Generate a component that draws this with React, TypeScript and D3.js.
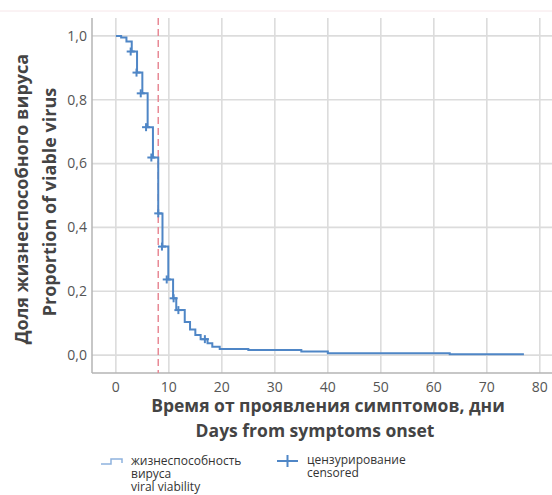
import React from 'react'
import * as d3 from 'd3'

// Kaplan-Meier step values
const stepDays = [0, 1, 2, 3, 4, 5, 6, 7, 8, 8.8, 9.9, 10.8, 11.4, 13, 14, 15, 16, 17.3, 18.2, 19.6, 25, 35, 40, 63]
const stepSurvival = [1.0, 0.995, 0.982, 0.951, 0.885, 0.82, 0.714, 0.619, 0.444, 0.34, 0.237, 0.178, 0.141, 0.104, 0.08, 0.063, 0.05, 0.037, 0.026, 0.019, 0.016, 0.011, 0.006, 0.003]
const lastDay = 77

const censorDays = [2.8, 3.9, 4.7, 5.7, 6.7, 8, 8.7, 9.6, 10.9, 11.8, 16.8]
const censorSurvival = [0.951, 0.885, 0.82, 0.714, 0.619, 0.444, 0.34, 0.237, 0.178, 0.141, 0.05]

const xTicks = [0, 10, 20, 30, 40, 50, 60, 70, 80]
const yTicks = [0, 0.2, 0.4, 0.6, 0.8, 1.0]
const medianDay = 8

const W = 552
const H = 495
const blue = '#4f86c6'
const font = '"Open Sans", "Noto Sans", sans-serif'

const App = () => {
  const plot = { left: 92, right: 552, top: 18, bottom: 373 }

  const x = d3.scaleLinear().domain([-4.5, 82.3]).range([plot.left, plot.right])
  const y = d3.scaleLinear().domain([-0.056, 1.056]).range([plot.bottom, plot.top])

  const pts: [number, number][] = stepDays.map((d, i) => [d, stepSurvival[i]])
  pts.push([lastDay, stepSurvival[stepSurvival.length - 1]])

  const line = d3.line<[number, number]>()
    .x(d => x(d[0]))
    .y(d => y(d[1]))
    .curve(d3.curveStepAfter)

  const fmt = (v: number) => d3.format('.1f')(v).replace('.', ',')

  return (
    <svg width={W} height={H} style={{ position: 'absolute', left: 0, top: 0, background: '#fff' }}>
      <line x1={0} x2={W} y1={11} y2={11} stroke="#f6e6e9" strokeWidth={1} />

      {/* grid */}
      {xTicks.map(t => (
        <line key={'gx' + t} x1={x(t)} x2={x(t)} y1={plot.top} y2={plot.bottom} stroke="#dcdcdc" strokeWidth={1.6} />
      ))}
      {yTicks.map(t => (
        <line key={'gy' + t} x1={plot.left} x2={plot.right} y1={y(t)} y2={y(t)} stroke="#dcdcdc" strokeWidth={1.6} />
      ))}

      {/* axes */}
      <line x1={plot.left} x2={plot.left} y1={plot.top} y2={plot.bottom} stroke="#b5b5b5" strokeWidth={1.5} />
      <line x1={plot.left} x2={plot.right} y1={plot.bottom} y2={plot.bottom} stroke="#b5b5b5" strokeWidth={1.5} />

      {/* median line */}
      <line x1={x(medianDay)} x2={x(medianDay)} y1={plot.top} y2={plot.bottom} stroke="#e88a96" strokeWidth={1.5} strokeDasharray="7,4" />

      {/* KM curve */}
      <path d={line(pts) || ''} fill="none" stroke={blue} strokeWidth={2} />
      {censorDays.map((d, i) => (
        <g key={'c' + i} stroke={blue} strokeWidth={2}>
          <line x1={x(d) - 4} x2={x(d) + 4} y1={y(censorSurvival[i])} y2={y(censorSurvival[i])} />
          <line x1={x(d)} x2={x(d)} y1={y(censorSurvival[i]) - 4} y2={y(censorSurvival[i]) + 4} />
        </g>
      ))}

      {/* tick labels */}
      {yTicks.map(t => (
        <text key={'ty' + t} x={87} y={y(t)} dy="0.35em" textAnchor="end" fontFamily={font} fontSize={14} fill="#555">{fmt(t)}</text>
      ))}
      {xTicks.map(t => (
        <text key={'tx' + t} x={x(t)} y={387} dy="0.35em" textAnchor="middle" fontFamily={font} fontSize={14} fill="#555">{t}</text>
      ))}

      {/* axis titles */}
      <text x={328} y={406} dy="0.35em" textAnchor="middle" fontFamily={font} fontSize={17.5} fontWeight="bold" fill="#444">Время от проявления симптомов, дни</text>
      <text x={315} y={431} dy="0.35em" textAnchor="middle" fontFamily={font} fontSize={17.5} fontWeight="bold" fill="#444">Days from symptoms onset</text>
      <text transform="translate(22,199) rotate(-90)" dy="0.35em" textAnchor="middle" fontFamily={font} fontSize={18} fontWeight="bold" fill="#444">Доля жизнеспособного вируса</text>
      <text transform="translate(50,202) rotate(-90)" dy="0.35em" textAnchor="middle" fontFamily={font} fontSize={18} fontWeight="bold" fill="#444">Proportion of viable virus</text>

      {/* legend */}
      <path d="M101,464 H111 V459 H122 V463" fill="none" stroke="#8fb2de" strokeWidth={1.5} />
      <text x={131} y={461} dy="0.35em" fontFamily={font} fontSize={12} fill="#333">жизнеспособность</text>
      <text x={131} y={474} dy="0.35em" fontFamily={font} fontSize={12} fill="#333">вируса</text>
      <text x={131} y={487} dy="0.35em" fontFamily={font} fontSize={12} fill="#333">viral viability</text>
      <line x1={277} x2={298} y1={461} y2={461} stroke={blue} strokeWidth={2} />
      <line x1={287.5} x2={287.5} y1={455} y2={467} stroke={blue} strokeWidth={2} />
      <text x={307} y={460} dy="0.35em" fontFamily={font} fontSize={12} fill="#333">цензурирование</text>
      <text x={307} y={473} dy="0.35em" fontFamily={font} fontSize={12} fill="#333">censored</text>
    </svg>
  )
}

export default App
